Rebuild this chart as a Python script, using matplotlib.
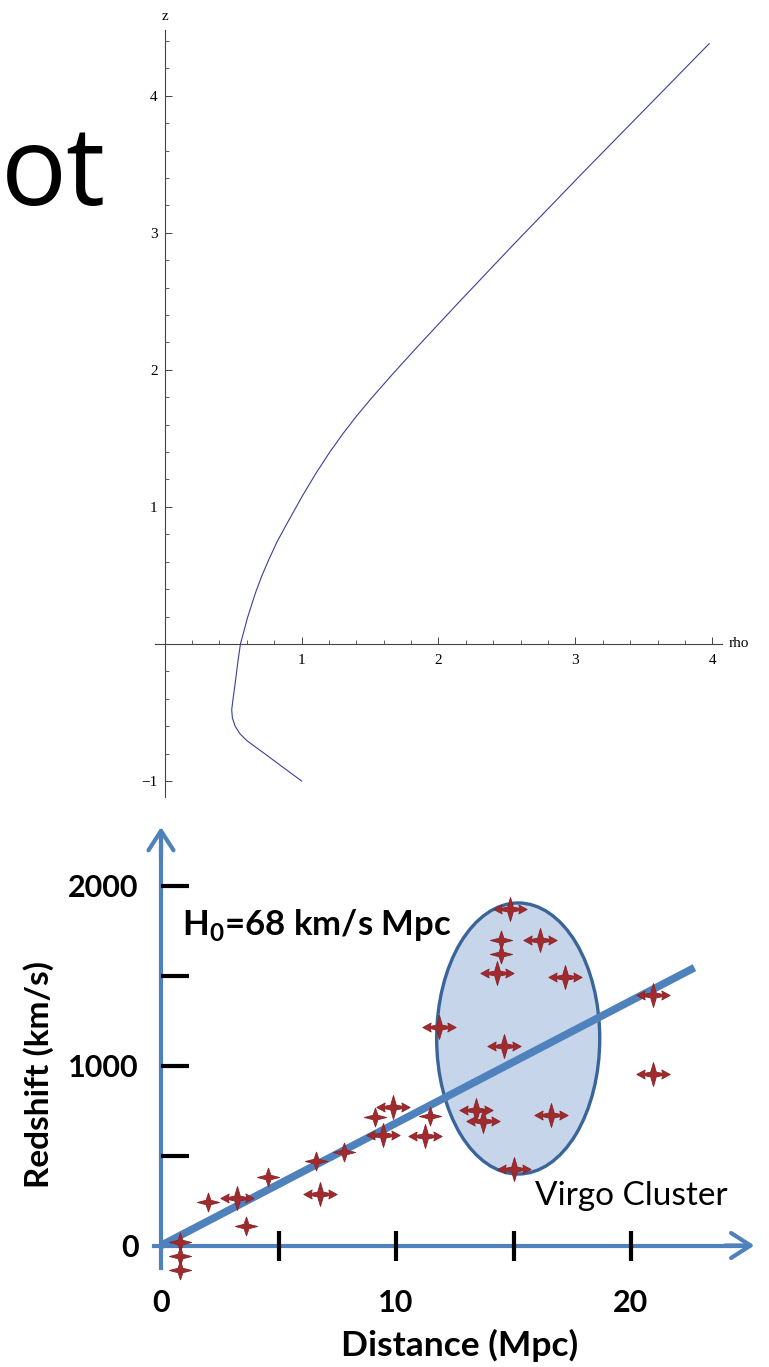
import matplotlib
matplotlib.use('Agg')
import matplotlib.pyplot as plt
from matplotlib.path import Path
from matplotlib.patches import Ellipse
from matplotlib.ticker import MultipleLocator

# ---- top plot: z vs rho curve ----
rho_vals = [1.0, 0.92, 0.84, 0.75, 0.665, 0.60, 0.55, 0.515, 0.495, 0.49, 0.50,
            0.519, 0.535, 0.554, 0.605, 0.663, 0.71, 0.761, 0.82, 0.883, 1.005,
            1.105, 1.205, 1.305, 1.405, 1.505, 1.655, 1.855, 2.155, 2.555, 3.055,
            3.555, 3.976]
z_vals = [-1.0, -0.941, -0.882, -0.815, -0.753, -0.705, -0.655, -0.60, -0.54, -0.48,
          -0.40, -0.26, -0.13, 0.0, 0.19, 0.371, 0.497, 0.615, 0.743, 0.859, 1.078,
          1.245, 1.398, 1.538, 1.667, 1.787, 1.958, 2.178, 2.50, 2.922, 3.44,
          3.95, 4.38]

# ---- bottom plot: Hubble diagram ----
H0 = 68
fit_dist = [0, 22.7]
star_dist = [0.81, 0.81, 0.81, 2.01, 3.62, 4.54, 6.6, 7.8, 9.11, 11.45, 14.47, 14.47]
star_vel = [19, -57, -135, 241, 109, 383, 470, 522, 713, 717, 1698, 1621]
arrow_dist = [3.22, 6.77, 9.43, 9.89, 11.23, 14.85, 16.13, 14.31, 17.18, 11.83,
              14.6, 20.92, 20.95, 13.4, 13.7, 16.6, 15.0]
arrow_vel = [263, 287, 615, 772, 611, 1869, 1698, 1513, 1494, 1213,
             1106, 1389, 952, 755, 690, 725, 425]
virgo_center = (15.2, 1150)
virgo_size = (6.94, 1506)

x_ticks = [0, 5, 10, 15, 20]
x_labels = ['0', '', '10', '', '20']
y_ticks = [0, 500, 1000, 1500, 2000]
y_labels = ['0', '', '1000', '', '2000']

plt.rcParams['mathtext.fontset'] = 'custom'
plt.rcParams['mathtext.rm'] = 'Lato'
plt.rcParams['mathtext.bf'] = 'Lato:bold'

W, H = 769, 1367
fig = plt.figure(figsize=(W / 100, H / 100), dpi=100)

# cut-off slide title
fig.text(0.001, 1 - 205 / H, 'ot', ha='left', va='baseline', fontsize=79,
         family='Open Sans', color='black')

# ---------------- top axes ----------------
ax1 = fig.add_axes([155 / W, 1 - 797 / H, 567 / W, 767 / H])
ax1.patch.set_visible(False)
ax1.plot(rho_vals, z_vals, color='#3d3d99', lw=0.8)
ax1.set_xlim(-0.07, 4.07)
ax1.set_ylim(-1.117, 4.48)
for s in ['top', 'right']:
    ax1.spines[s].set_visible(False)
for s in ['left', 'bottom']:
    ax1.spines[s].set_position('zero')
    ax1.spines[s].set_color('#444444')
    ax1.spines[s].set_linewidth(0.8)
ax1.set_xticks([1, 2, 3, 4])
ax1.set_yticks([-1, 1, 2, 3, 4])
ax1.xaxis.set_minor_locator(MultipleLocator(0.2))
ax1.yaxis.set_minor_locator(MultipleLocator(0.2))
ax1.tick_params(which='major', direction='in', length=5, width=0.7, color='#444444',
                labelsize=11, labelfontfamily='Liberation Serif')
ax1.tick_params(which='minor', direction='in', length=3, width=0.6, color='#444444')
ax1.tick_params(axis='x', pad=7)
ax1.tick_params(axis='y', pad=5)
ax1.text(0, 4.58, 'z', ha='center', va='center', fontsize=11,
         family='Liberation Serif', clip_on=False)
ax1.text(4.12, 0, 'rho', ha='left', va='center', fontsize=11,
         family='Liberation Serif', clip_on=False)

# ---------------- bottom axes ----------------
px_per_mpc = 23.5
px_per_kms = 0.18
x0_px, y0_px = 161, 1245.5
top_px = 805
ax2 = fig.add_axes([0, 0, 1, (H - top_px) / H])
ax2.patch.set_visible(False)
ax2.set_xlim(-x0_px / px_per_mpc, (W - x0_px) / px_per_mpc)
ax2.set_ylim((y0_px - H) / px_per_kms, (y0_px - top_px) / px_per_kms)

blue = '#4F81BD'
for s in ['top', 'right']:
    ax2.spines[s].set_visible(False)
for s in ['left', 'bottom']:
    ax2.spines[s].set_position(('data', 0))
    ax2.spines[s].set_color(blue)
    ax2.spines[s].set_linewidth(3)
    ax2.spines[s].set_zorder(1)
ax2.spines['left'].set_bounds(-125, 2290)
ax2.spines['bottom'].set_bounds(-0.3, 24.9)
arrow_kw = dict(arrowstyle='->, head_length=0.7, head_width=0.45', color=blue,
                lw=3, mutation_scale=20, shrinkA=0, shrinkB=0)
ax2.annotate('', xy=(25.25, 0), xytext=(24.0, 0), arrowprops=arrow_kw, zorder=1)
ax2.annotate('', xy=(0, 2325), xytext=(0, 2150), arrowprops=arrow_kw, zorder=1)

ax2.set_xticks(x_ticks, x_labels)
ax2.set_yticks(y_ticks, y_labels)
ax2.xaxis.get_major_ticks()[0].tick1line.set_visible(False)
ax2.yaxis.get_major_ticks()[0].tick1line.set_visible(False)
ax2.tick_params(axis='x', direction='inout', length=22, width=3, color='black',
                pad=20, labelsize=22)
ax2.tick_params(axis='y', direction='in', length=20, width=3, color='black',
                pad=16, labelsize=22)
for lab in ax2.get_xticklabels() + ax2.get_yticklabels():
    lab.set_fontfamily('Lato')
    lab.set_fontweight('bold')

virgo = Ellipse(virgo_center, virgo_size[0], virgo_size[1], facecolor='#c6d5ea',
                edgecolor='#3a659a', lw=2.4, zorder=2)
ax2.add_patch(virgo)

ax2.plot(fit_dist, [H0 * d for d in fit_dist], color=blue, lw=5.5,
         solid_capstyle='butt', zorder=3)

star_path = Path([(0, 0.85), (0.22, 0.2), (1, 0), (0.22, -0.2), (0, -0.85),
                  (-0.22, -0.2), (-1, 0), (-0.22, 0.2), (0, 0.85)],
                 closed=True)
arrow_path = Path([(0, 0.72), (0.17, 0.14), (0.55, 0.07), (0.5, 0.27), (1, 0),
                   (0.5, -0.27), (0.55, -0.07), (0.17, -0.14), (0, -0.72),
                   (-0.17, -0.14), (-0.55, -0.07), (-0.5, -0.27), (-1, 0),
                   (-0.5, 0.27), (-0.55, 0.07), (-0.17, 0.14), (0, 0.72)],
                  closed=True)
red = '#a02b2e'
ax2.plot(star_dist, star_vel, ls='none', marker=star_path, ms=16, mfc=red,
         mec='#8a2226', mew=0.6, zorder=4)
ax2.plot(arrow_dist, arrow_vel, ls='none', marker=arrow_path, ms=24, mfc=red,
         mec='#8a2226', mew=0.6, zorder=4)

ax2.text(0.88, 1725, r'H$_\mathbf{0}$=68 km/s Mpc', fontsize=25, fontweight='bold',
         family='Lato', ha='left', va='baseline', zorder=5)
ax2.text(15.9, 225, 'Virgo Cluster', fontsize=24, family='Lato',
         ha='left', va='baseline', zorder=5)

ax2.set_xlabel('Distance (Mpc)', fontsize=25.5, fontweight='bold', family='Lato')
ax2.xaxis.set_label_coords(460 / W, 1 - 1345 / H, transform=fig.transFigure)
ax2.set_ylabel('Redshift (km/s)', fontsize=24, fontweight='bold', family='Lato')
ax2.yaxis.set_label_coords(39 / W, 1 - 1074 / H, transform=fig.transFigure)
ax2.yaxis.label.set_va('center')
ax2.xaxis.label.set_va('center')

fig.savefig('out.png', dpi=100)
